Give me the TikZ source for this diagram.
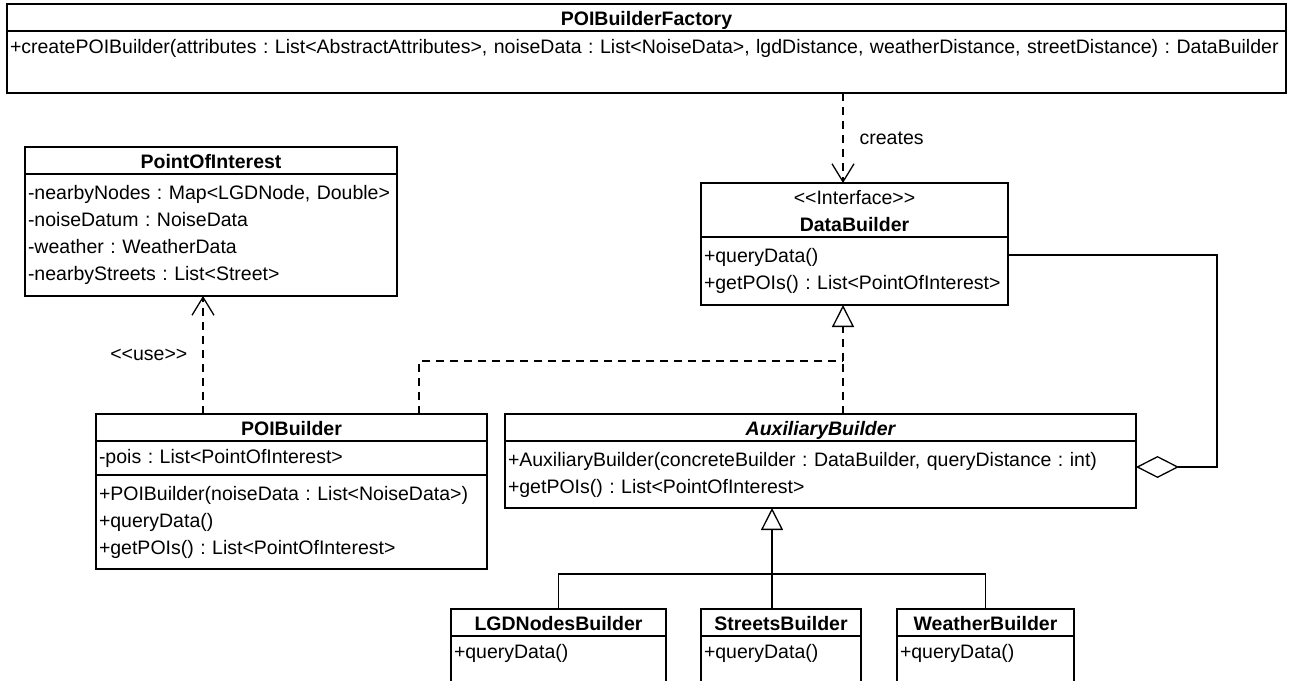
\documentclass[tikz,border=0pt]{standalone}
\usepackage{fontspec}
\setmainfont{Liberation Sans}
\usetikzlibrary{arrows.meta}
\frenchspacing

\begin{document}
\begin{tikzpicture}[%
    x=1pt, y=-1pt,
    line width=1.3pt,
    every node/.style={font=\fontsize{19.5}{27}\selectfont},
    box/.style 2 args={
        draw,
        rectangle,
        anchor=north west,
        inner xsep=3pt,
        inner ysep=0pt,
        outer sep=0pt,
        text width=#1,
        minimum height=#2},
    part/.style 2 args={box={#1}{#2}, align=left,
        execute at begin node=\strut,
        execute at end node=\strut},
    head/.style 2 args={box={#1}{#2}, align=center,
        font=\fontsize{19.5}{27}\selectfont\bfseries,
        execute at begin node=\rule{0pt}{21.5pt},
        execute at end node=\rule[-5.5pt]{0pt}{5.5pt}},
    abstract/.style={font=\fontsize{19.5}{27}\selectfont\bfseries\itshape},
    lbl/.style={inner sep=0pt},
    dashline/.style={dash pattern=on 8pt off 6pt},
    dep/.style={dashline, -{Straight Barb[length=18pt, width=22pt]}},
    real/.style={dashline, -{Triangle[open, length=22pt, width=22pt]}},
    inherit/.style={-{Triangle[open, length=22pt, width=22pt]}},
    aggr/.style={{Diamond[open, length=43pt, width=22pt]}-},
]

\useasboundingbox (0,0) rectangle (1289,680);
\clip (0,0) rectangle (1289,680);

% factory
\node[head={1273pt}{27pt}] (fac) at (7,4) {POIBuilderFactory};
\node[part={1273pt}{62pt}] (facops) at (fac.south west)
    {+createPOIBuilder(attributes : List<AbstractAttributes>, noiseData : List<NoiseData>, lgdDistance, weatherDistance, streetDistance) : DataBuilder\\[-8pt]};

% point of interest
\node[head={366pt}{26pt}] (poi) at (25,147) {PointOfInterest};
\node[part={366pt}{122pt}] (poiattr) at (poi.south west)
    {-nearbyNodes : Map<LGDNode, Double>\\-noiseDatum : NoiseData\\-weather : WeatherData\\-nearbyStreets : List<Street>};

% interface
\node[head={301pt}{53pt}] (data) at (701,183) {{\mdseries <{}<Interface>{}>}\\DataBuilder};
\node[part={301pt}{68pt}] (dataops) at (data.south west)
    {+queryData()\\+getPOIs() : List<PointOfInterest>};

% builders
\node[head={385pt}{27pt}] (builder) at (96,414) {POIBuilder};
\node[part={385pt}{34pt}] (builderattr) at (builder.south west) {-pois : List<PointOfInterest>};
\node[part={385pt}{94pt}] (builderops) at (builderattr.south west)
    {+POIBuilder(noiseData : List<NoiseData>)\\+queryData()\\+getPOIs() : List<PointOfInterest>};

\node[head={625pt}{27pt}, abstract] (aux) at (505,414) {AuxiliaryBuilder};
\node[part={625pt}{67pt}] (auxops) at (aux.south west)
    {+AuxiliaryBuilder(concreteBuilder : DataBuilder, queryDistance : int)\\+getPOIs() : List<PointOfInterest>};

\foreach \n/\x/\w/\cls in {lgd/451/209/LGDNodes, streets/701/154/Streets, weather/897/171/Weather}{
    \node[head={\w pt}{27pt}] (\n) at (\x,609) {\cls Builder};
    \node[part={\w pt}{62pt}] (\n ops) at (\n.south west) {+queryData()\\[-8pt]};
}

% connectors
\draw[dep] ([xshift=-11.5pt]data.north |- facops.south) -- ([xshift=-11.5pt]data.north)
    node[midway, right=16pt, lbl] {creates};
\draw[dep] ([xshift=-8pt]poiattr.south |- builder.north) -- ([xshift=-8pt]poiattr.south)
    node[midway, left=15pt, lbl] {<{}<use>{}>};

\coordinate (join) at (843,361);
\draw[real] (join) -- (join |- dataops.south);
\draw[dashline] ([xshift=127.5pt]builder.north) |- (join);
\draw[dashline] (aux.north -| join) -- (join);

\draw[aggr] ([yshift=-26pt]auxops.north east) -- ++(81,0) |- ([yshift=-18pt]dataops.north east);

\coordinate (trunk) at (772,574);
\draw[inherit] (trunk |- streets.north) -- (trunk |- auxops.south);
\draw (lgd.north) |- (trunk) -| (weather.north);
\end{tikzpicture}
\end{document}
